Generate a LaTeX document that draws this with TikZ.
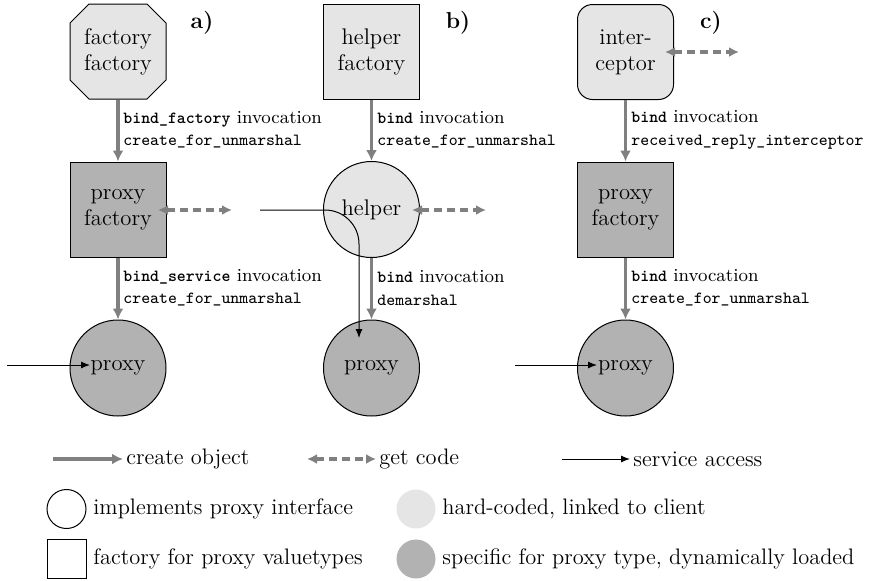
\documentclass[tikz,border=0pt]{standalone}
\usepackage{fontspec}
\usetikzlibrary{arrows.meta}
\definecolor{lightfill}{gray}{0.9}
\definecolor{darkfill}{gray}{0.7}
\definecolor{arrowgray}{gray}{0.5}
\newcommand\nodefont{\fontsize{11.3}{13}\selectfont}
\newcommand\lblfont{\fontsize{9.2}{11.2}\selectfont}
\newcommand\legfont{\fontsize{11.2}{13}\selectfont}
\newcommand\ttl[1]{{\fontsize{8.5}{11.2}\selectfont\ttfamily #1}}
\newcommand\ttlb[1]{{\fontsize{8.5}{11.2}\selectfont\ttfamily\bfseries #1}}
\begin{document}
\begin{tikzpicture}[x=0.5pt,y=-0.5pt,
  box/.style={draw=black, line width=0.5pt, minimum width=48pt, minimum height=47.5pt, align=center, inner sep=0pt, font=\nodefont},
  light/.style={fill=lightfill},
  dark/.style={fill=darkfill},
  sq/.style={box, rectangle},
  circ/.style={box, circle, minimum size=48pt},
  octa/.style={draw=black, line width=0.5pt, fill=lightfill},
  create/.style={draw=arrowgray, line width=1.7pt, -{Latex[length=5.5pt,width=5.5pt]}},
  getcode/.style={draw=arrowgray, line width=1.6pt, dash pattern=on 4pt off 2.5pt, {Latex[length=5pt,width=5pt]}-{Latex[length=5pt,width=5pt]}},
  service/.style={draw=black, line width=0.5pt, -{Latex[length=4.5pt,width=3.5pt]}},
  lbl/.style={anchor=west, align=left, inner sep=0pt, font=\lblfont},
  part/.style={font=\fontsize{11.5}{13}\selectfont\bfseries, inner sep=0pt},
  legtext/.style={anchor=west, inner sep=0pt, font=\legfont},
]
\useasboundingbox (0,0) rectangle (874,580);

% ---------- column a ----------
\draw[octa] (89,4) -- (147,4) -- (166,23) -- (166,80) -- (147,99) -- (89,99) -- (70,80) -- (70,23) -- cycle;
\node[box, draw=none] (ff) at (118,51.5) {factory\\factory};
\node[part] (la) at (202,23) {a)};
\node[sq, dark] (pfa) at (118,209.5) {proxy\\factory};
\node[circ, dark] (pa) at (118,368) {proxy};
\draw[create] (ff) -- (pfa);
\draw[create] (pfa) -- (pa);
\node[lbl] (ta1) at (123,130) {\ttlb{bind\_factory} invocation\\\ttl{create\_for\_unmarshal}};
\node[lbl] (ta2) at (123,288) {\ttlb{bind\_service} invocation\\\ttl{create\_for\_unmarshal}};
\coordinate (gca0) at (158,210);
\coordinate (gca1) at (232,210);
\draw[getcode] (gca0) -- (gca1);
\coordinate (saa0) at (7,365);
\coordinate (saa1) at (90,365);
\draw[service] (saa0) -- (saa1);

% ---------- column b ----------
\node[sq, light] (hf) at (371.5,52) {helper\\factory};
\node[part] (lb) at (458,23) {b)};
\node[circ, light] (hb) at (371.5,209.5) {helper};
\node[circ, dark] (pb) at (371.5,368) {proxy};
\draw[create] (hf) -- (hb);
\draw[create] (hb) -- (pb);
\node[lbl] (tb1) at (377,130) {\ttlb{bind} invocation\\\ttl{create\_for\_unmarshal}};
\node[lbl] (tb2) at (377,288) {\ttlb{bind} invocation\\\ttl{demarshal}};
\coordinate (gcb0) at (412,210);
\coordinate (gcb1) at (486,210);
\draw[getcode] (gcb0) -- (gcb1);
\coordinate (sab0) at (260,210);
\coordinate (sab1) at (359,338);
\draw[service, rounded corners=17pt] (sab0) -| (sab1);

% ---------- column c ----------
\node[sq, light, rounded corners=7.5pt] (ic) at (625.5,52) {inter-\\ceptor};
\node[part] (lc) at (711,23) {c)};
\node[sq, dark] (pfc) at (625.5,209.5) {proxy\\factory};
\node[circ, dark] (pc) at (625.5,368) {proxy};
\draw[create] (ic) -- (pfc);
\draw[create] (pfc) -- (pc);
\node[lbl] (tc1) at (631,130) {\ttlb{bind} invocation\\\ttl{received\_reply\_interceptor}};
\node[lbl] (tc2) at (631,288) {\ttlb{bind} invocation\\\ttl{create\_for\_unmarshal}};
\coordinate (gcc0) at (665,52);
\coordinate (gcc1) at (739,52);
\draw[getcode] (gcc0) -- (gcc1);
\coordinate (sac0) at (515,365);
\coordinate (sac1) at (597,365);
\draw[service] (sac0) -- (sac1);

% ---------- legend ----------
\coordinate (k1a) at (53,459);
\coordinate (k1b) at (123,459);
\draw[create] (k1a) -- (k1b);
\node[legtext] (k1t) at (126,459) {create object};
\coordinate (k2a) at (307,459);
\coordinate (k2b) at (376,459);
\draw[getcode] (k2a) -- (k2b);
\node[legtext] (k2t) at (379,459) {get code};
\coordinate (k3a) at (562,459);
\coordinate (k3b) at (630,459);
\draw[service] (k3a) -- (k3b);
\node[legtext] (k3t) at (633,459) {service access};

\node[draw=black, line width=0.5pt, circle, minimum size=19.5pt, inner sep=0pt] (k4) at (66.5,509) {};
\node[legtext] (k4t) at (93,509) {implements proxy interface};
\node[fill=lightfill, circle, minimum size=19.5pt, inner sep=0pt] (k5) at (416,509) {};
\node[legtext] (k5t) at (442,509) {hard-coded, linked to client};
\node[draw=black, line width=0.5pt, rectangle, minimum size=19.5pt, inner sep=0pt] (k6) at (66.5,559) {};
\node[legtext] (k6t) at (93,559) {factory for proxy valuetypes};
\node[fill=darkfill, circle, minimum size=19.5pt, inner sep=0pt] (k7) at (416,559) {};
\node[legtext] (k7t) at (442,559) {specific for proxy type, dynamically loaded};
\end{tikzpicture}
\end{document}
